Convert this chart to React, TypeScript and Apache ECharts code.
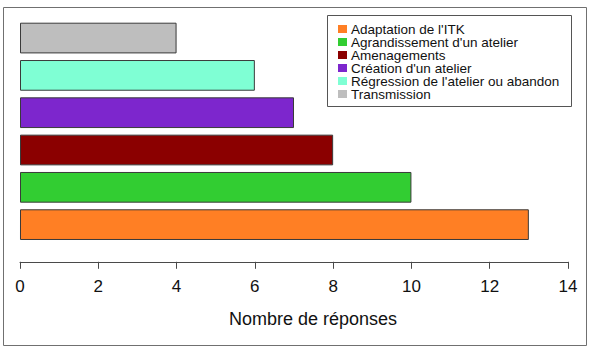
import React, { useEffect, useRef } from "react";
import * as echarts from "echarts";

// Reasons given, with counts, listed from the bottom bar upwards
const categories = [
  "Adaptation de l'ITK",
  "Agrandissement d'un atelier",
  "Amenagements",
  "Création d'un atelier",
  "Régression de l'atelier ou abandon",
  "Transmission",
];
const counts = [13, 10, 8, 7, 6, 4];
const barColors = ["#FF7F24", "#32CD32", "#8B0000", "#7D26CD", "#7FFFD4", "#BEBEBE"];
const tickValues = [0, 2, 4, 6, 8, 10, 12, 14];
const axisTitle = "Nombre de réponses";

const FONT = "'Liberation Sans', Arial, Helvetica, sans-serif";

export default function App() {
  const ref = useRef<HTMLDivElement>(null);

  useEffect(() => {
    if (!ref.current) return;
    const chart = echarts.init(ref.current, null, { renderer: "svg" });

    // One series per reason so each gets its own legend entry; stacking keeps
    // every bar centred on its own category row.
    const series = categories.map((name, i) => ({
      type: "bar" as const,
      name,
      stack: "all",
      barCategoryGap: "17.7%",
      itemStyle: { color: barColors[i], borderColor: "#3a3a3a", borderWidth: 1 },
      data: counts.map((v, j) => (j === i ? v : null)),
    }));

    chart.setOption({
      animation: false,
      textStyle: { fontFamily: FONT },
      grid: { left: 20, width: 548, top: 19.4, height: 223.9 },
      xAxis: {
        type: "value",
        min: 0,
        max: 14,
        interval: 2,
        position: "bottom",
        offset: 18.5,
        splitLine: { show: false },
        axisLine: { show: true, lineStyle: { color: "#4a4a4a", width: 1 } },
        axisTick: { show: true, length: 7, lineStyle: { color: "#4a4a4a" } },
        axisLabel: {
          show: true,
          fontSize: 17,
          color: "#111",
          margin: 16,
          formatter: (v: number) => (tickValues.includes(v) ? String(v) : ""),
        },
      },
      yAxis: {
        type: "category",
        data: categories,
        show: false,
      },
      legend: {
        orient: "vertical",
        left: 338,
        top: 22,
        padding: 0,
        itemGap: -1,
        itemWidth: 9,
        itemHeight: 8,
        icon: "rect",
        data: categories,
        selectedMode: false,
        textStyle: {
          fontSize: 13.5,
          lineHeight: 12,
          height: 12,
          color: "#111",
          fontFamily: FONT,
          padding: [0, 0, 0, -1],
        },
        itemStyle: { borderWidth: 0 },
      },
      graphic: [
        {
          type: "rect",
          shape: { x: 3.5, y: 7.5, width: 583, height: 338 },
          style: { fill: "none", stroke: "#707070", lineWidth: 1 },
          silent: true,
        },
        {
          type: "rect",
          shape: { x: 327.5, y: 15.5, width: 244, height: 91 },
          style: { fill: "none", stroke: "#555", lineWidth: 1 },
          silent: true,
        },
        {
          type: "text",
          x: 313,
          y: 319,
          style: {
            text: axisTitle,
            fontSize: 18,
            fontFamily: FONT,
            fill: "#111",
            align: "center",
            verticalAlign: "middle",
          },
          silent: true,
        },
      ],
      series,
    });

    return () => chart.dispose();
  }, []);

  return (
    <div
      ref={ref}
      style={{ position: "absolute", left: 0, top: 0, width: 590, height: 347, background: "#fff" }}
    />
  );
}
